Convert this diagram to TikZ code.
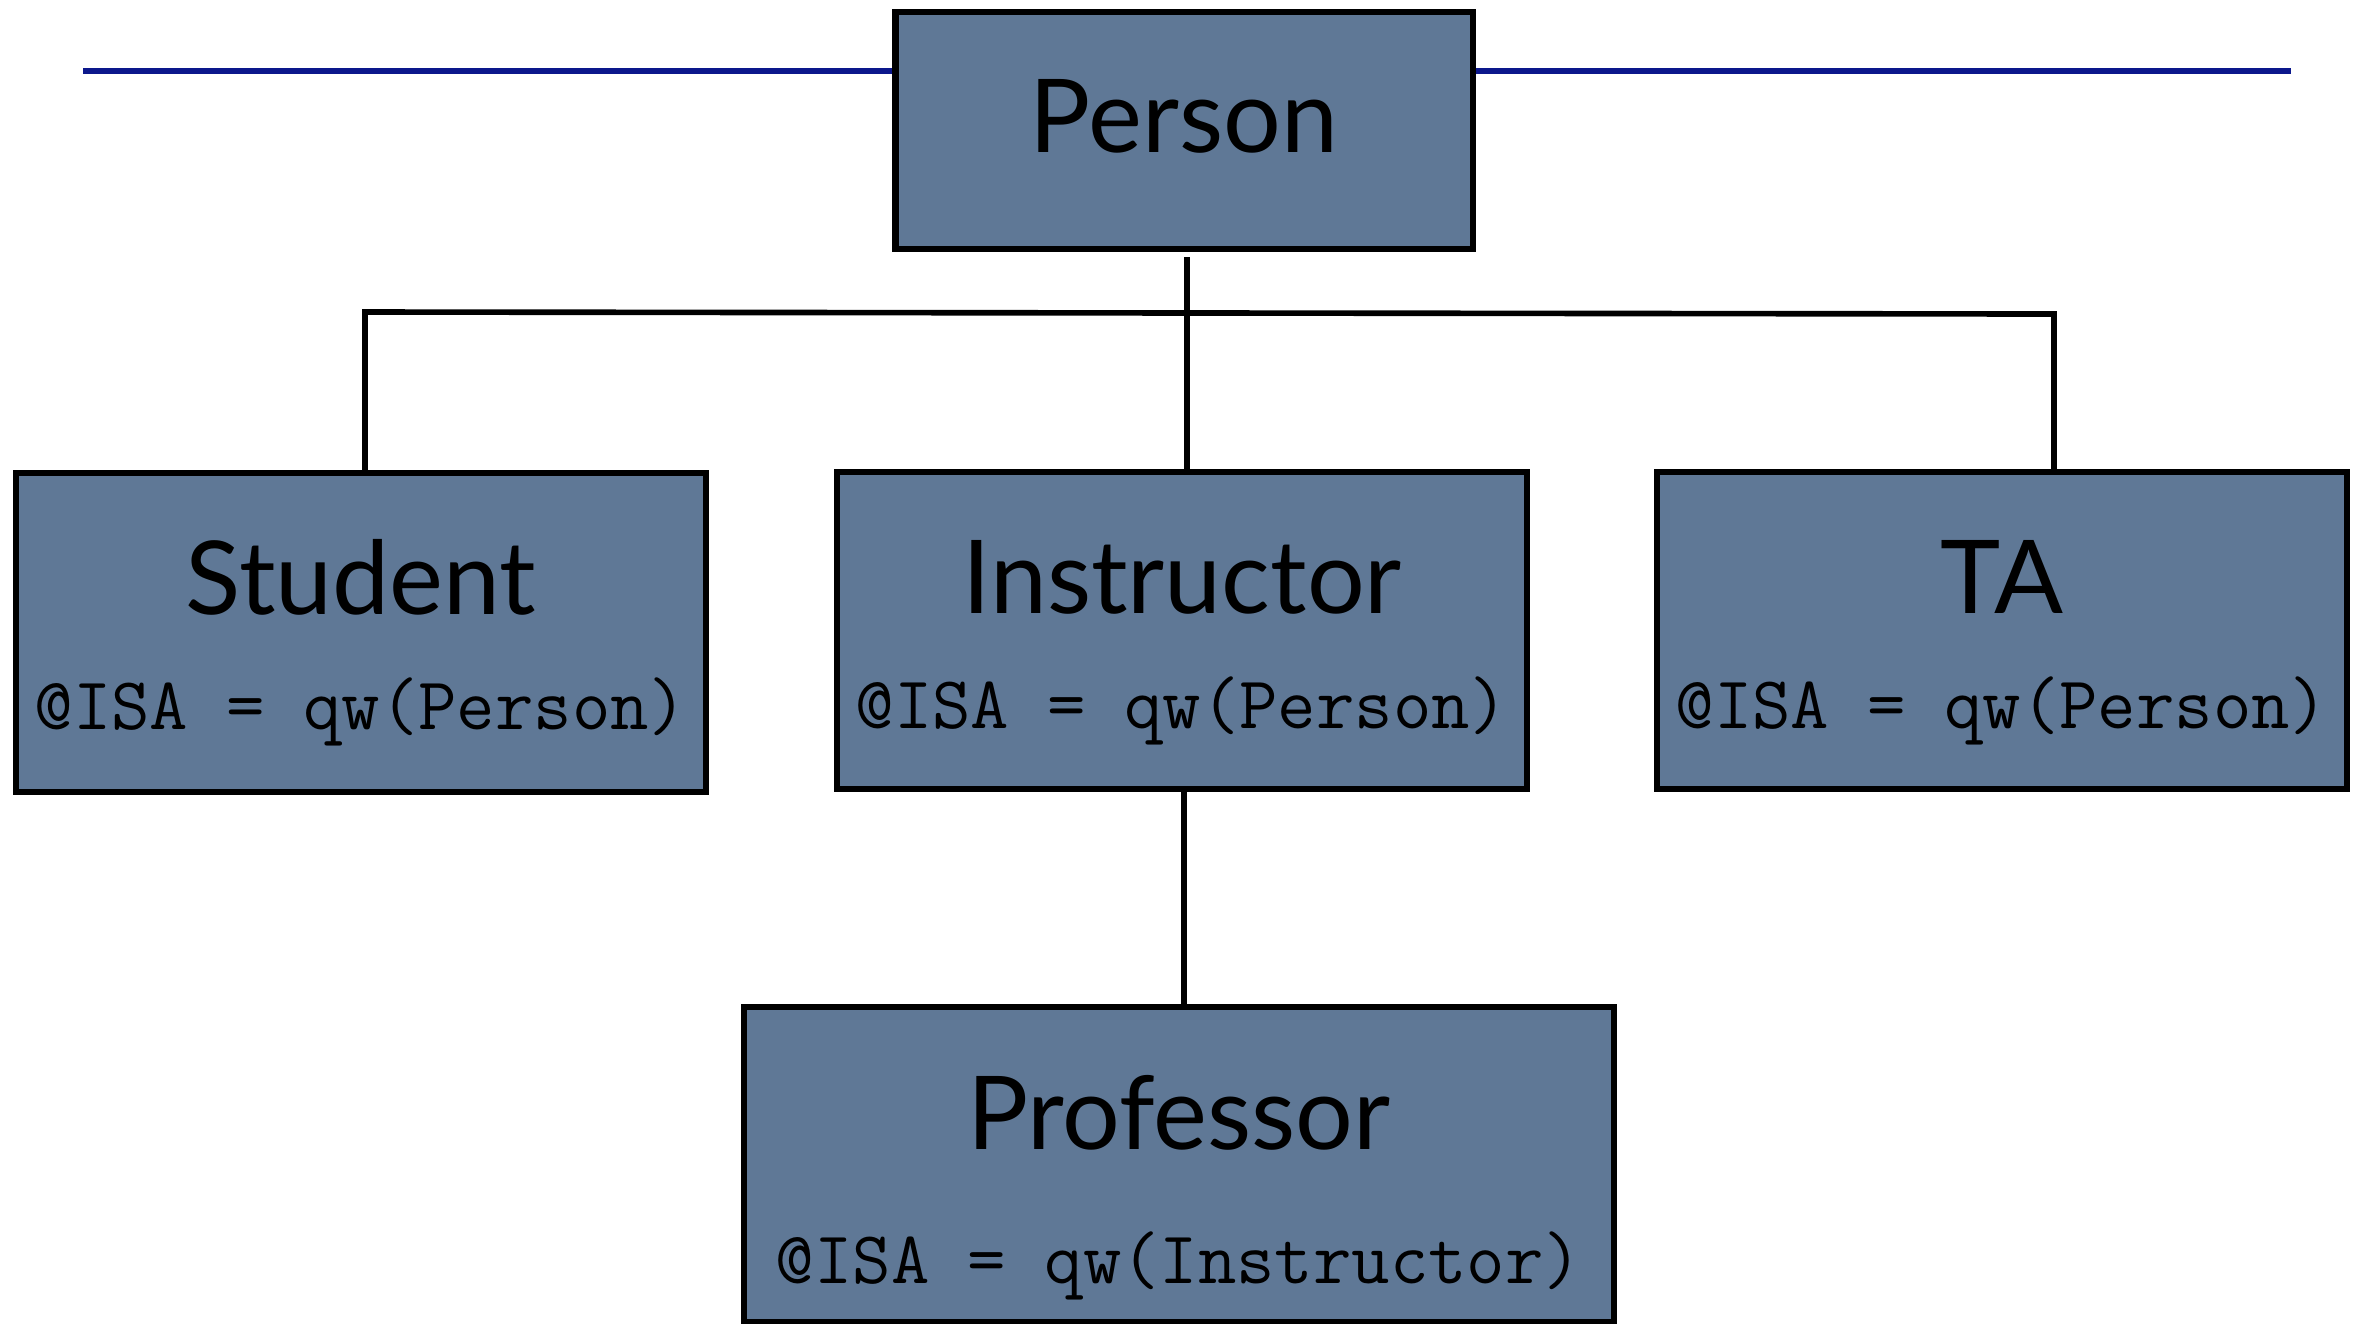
\documentclass[tikz,border=0pt]{standalone}
\usepackage{fontspec}
\newfontfamily\titlefont{Lato}
\definecolor{slate}{RGB}{95,120,150}
\definecolor{rulerblue}{RGB}{12,24,140}
\tikzset{
    classbox/.style={draw=black, line width=1.8pt, fill=slate, inner sep=0pt},
    classname/.style={anchor=base, inner sep=0pt, font=\titlefont\fontsize{29}{31}\selectfont},
    isaline/.style={anchor=base, inner sep=0pt, font=\ttfamily\fontsize{21.2}{23}\selectfont},
    link/.style={line width=1.6pt, black}
}
\begin{document}
\begin{tikzpicture}[x=0.01cm, y=-0.01cm]
    \useasboundingbox (0,0) rectangle (2356,1323);

    % The boxes
    \node[classbox, minimum width=5.77cm, minimum height=2.37cm] (person) at (1184,130.5) {};
    \node[classbox, minimum width=6.90cm, minimum height=3.19cm] (student) at (361,632.5) {};
    \node[classbox, minimum width=6.90cm, minimum height=3.17cm] (instructor) at (1182,630.5) {};
    \node[classbox, minimum width=6.90cm, minimum height=3.17cm] (ta) at (2002,630.5) {};
    \node[classbox, minimum width=8.70cm, minimum height=3.15cm] (professor) at (1179,1164.5) {};

    % Names and @ISA lines
    \node[classname] (personT) at ([yshift=-1.44cm]person.north) {Person};
    \foreach \c/\t in {student/Student, instructor/Instructor, ta/TA} {
        \node[classname] (\c T) at ([yshift=-1.45cm]\c.north) {\t};
        \node[isaline] (\c I) at ([yshift=-2.60cm]\c.north) {@ISA = qw(Person)};
    }
    \node[classname] (professorT) at ([yshift=-1.455cm]professor.north) {Professor};
    \node[isaline] (professorI) at ([yshift=-2.80cm]professor.north) {@ISA = qw(Instructor)};

    % Blue rule behind Person
    \coordinate (ruleL) at (83,71);
    \coordinate (ruleR) at (2291,71);
    \draw[rulerblue, line width=1.5pt] (ruleL) -- (ruleL -| person.west);
    \draw[rulerblue, line width=1.5pt] (person.east |- ruleR) -- (ruleR);

    % Connectors
    \coordinate (busL) at (365,312);
    \coordinate (busR) at (2054,314);
    \coordinate (trunk) at (1187,0);
    \draw[link] ([yshift=-0.05cm]trunk |- person.south) -- (trunk |- instructor.north);
    \draw[link] (busL |- student.north) -- (busL) -- (busR) -- (busR |- ta.north);
    \coordinate (stem) at (1184,0);
    \draw[link] (stem |- instructor.south) -- (stem |- professor.north);
\end{tikzpicture}
\end{document}
